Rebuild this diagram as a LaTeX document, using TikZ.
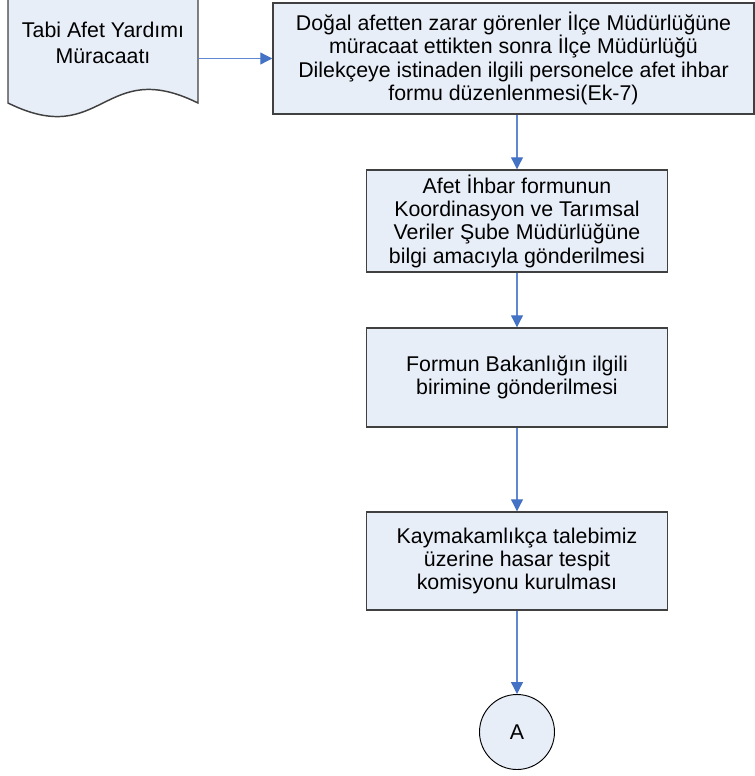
\documentclass[tikz,border=0pt]{standalone}
\usepackage{fontspec}
\setmainfont{Liberation Sans}
\usetikzlibrary{arrows.meta}
\definecolor{boxfill}{HTML}{E8EEF8}
\definecolor{boxline}{HTML}{404040}
\definecolor{flowblue}{HTML}{5F88D0}
\definecolor{tipblue}{HTML}{4472C4}
\tikzset{
  islem/.style={draw=boxline, line width=1.1pt, fill=boxfill, align=center,
    minimum width=225.75pt, inner sep=2pt,
    font=\fontsize{16}{17.5}\selectfont},
  baglanti/.style={circle, draw=black, line width=0.7pt, fill=boxfill,
    minimum size=56.25pt, inner sep=0pt, font=\fontsize{16}{17.5}\selectfont},
  akis/.style={draw=flowblue, line width=0.9pt,
    -{Triangle[length=9pt,width=9pt,color=tipblue]}}
}
\begin{document}
\begin{tikzpicture}[x=0.75pt,y=-0.75pt]
\useasboundingbox (0,0) rectangle (755,776);
%belge sekli
\draw[draw=boxline, line width=1.1pt, fill=boxfill]
  (8,-5) -- (8,103) .. controls (103,150) and (103,56) .. (198,103) -- (198,-5);
\node[align=center, minimum width=142.5pt, inner sep=0pt,
  font=\fontsize{16}{19}\selectfont] (belge) at (103,43)
  {Tabi Afet Yardımı\\Müracaatı};
%kutular
\node[islem, minimum width=360.75pt, minimum height=83.25pt] (k1) at (513.5,58.5)
  {Doğal afetten zarar görenler İlçe Müdürlüğüne\\müracaat ettikten sonra İlçe Müdürlüğü\\Dilekçeye istinaden ilgili personelce afet ihbar\\formu düzenlenmesi(Ek-7)};
\node[islem, minimum height=76.5pt] (k2) at (517,221)
  {Afet İhbar formunun\\Koordinasyon ve Tarımsal\\Veriler Şube Müdürlüğüne\\bilgi amacıyla gönderilmesi};
\node[islem, minimum height=74.25pt] (k3) at (517,377.5)
  {Formun Bakanlığın ilgili\\birimine gönderilmesi};
\node[islem, minimum height=73.5pt] (k4) at (517,561)
  {Kaymakamlıkça talebimiz\\üzerine hasar tespit\\komisyonu kurulması};
\node[baglanti] (A) at (517,732) {A};
%oklar
\draw[akis] (belge.east |- k1.west) -- (k1.west);
\draw[akis] (k1.south -| k2.north) -- (k2.north);
\draw[akis] (k2) -- (k3);
\draw[akis] (k3) -- (k4);
\draw[akis] (k4) -- (A);
\end{tikzpicture}
\end{document}
